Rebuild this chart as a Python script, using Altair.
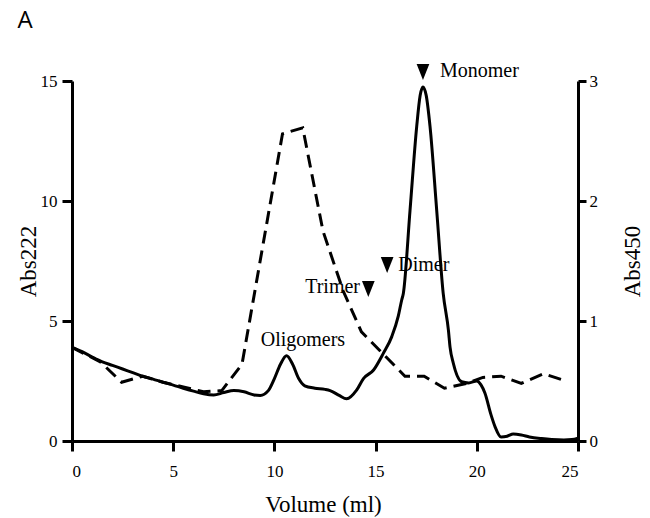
import altair as alt
import pandas as pd

# ---- data -------------------------------------------------------------
abs222_vol = [0, 0.5, 1.0, 1.5, 2.0, 2.5, 3.0, 3.5, 4.0, 4.5, 5.0, 5.5, 6.0, 6.5,
              7.0, 7.5, 8.0, 8.5, 9.0, 9.3, 9.7, 10.0, 10.3, 10.6, 10.9, 11.2,
              11.5, 12.0, 12.5, 12.75, 13.2, 13.57, 14.07, 14.4, 14.9, 15.38,
              15.8, 16.12, 16.29, 16.37, 16.7, 17.03, 17.2, 17.34, 17.5, 17.69,
              18.02, 18.34, 18.6, 18.68, 18.84, 19.25, 19.6, 20.0, 20.2, 20.4,
              20.7, 20.9, 21.2, 21.5, 21.8, 22.2, 22.6, 23.2, 23.7, 24.3, 24.7, 25.0]
abs222_val = [3.9, 3.72, 3.5, 3.3, 3.15, 3.0, 2.85, 2.7, 2.58, 2.45, 2.33, 2.2, 2.08, 1.97,
              1.92, 2.02, 2.1, 2.05, 1.92, 1.9, 2.1, 2.6, 3.2, 3.55, 3.2, 2.6,
              2.3, 2.2, 2.15, 2.1, 1.9, 1.76, 2.13, 2.6, 2.96, 3.65,
              4.35, 5.2, 5.875, 6.15, 9.6, 13.1, 14.4, 14.75, 14.4, 13.1,
              9.6, 6.15, 4.6, 3.9, 3.24, 2.47, 2.42, 2.5, 2.35, 2.0,
              1.1, 0.6, 0.17, 0.2, 0.29, 0.25, 0.17, 0.1, 0.06, 0.04, 0.06, 0.12]

abs450_vol = [0, 1.4, 2.45, 3.5, 4.5, 5.5, 6.5, 7.4, 8.4, 10.4, 11.4, 12.4, 13.4,
              14.3, 16.45, 17.4, 18.4, 19.5, 20.3, 21.2, 22.2, 23.3, 24.4]
abs450_val = [0.78, 0.66, 0.49, 0.54, 0.49, 0.45, 0.41, 0.42, 0.64, 2.56, 2.61, 1.75, 1.25,
              0.91, 0.54, 0.54, 0.44, 0.48, 0.53, 0.54, 0.48, 0.56, 0.50]

marker_vol = [17.34, 15.57, 14.64]
marker_abs = [15.375, 7.33, 6.33]

left_labels = ["Monomer", "Dimer"]
left_label_vol = [18.18, 16.12]
left_label_abs = [15.18, 7.10]

right_labels = ["Trimer"]
right_label_vol = [14.23]
right_label_abs = [6.15]

center_labels = ["Oligomers"]
center_label_vol = [11.41]
center_label_abs = [3.97]

panel_label = ["A"]

x_ticks = [0, 5, 10, 15, 20, 25]
left_ticks = [0, 5, 10, 15]
right_ticks = [0, 1, 2, 3]

# ---- frames -----------------------------------------------------------
solid_df = pd.DataFrame({"vol": abs222_vol, "abs222": abs222_val})
dash_df = pd.DataFrame({"vol": abs450_vol, "abs450": abs450_val})
mark_df = pd.DataFrame({"vol": marker_vol, "abs222": marker_abs})
lab_l = pd.DataFrame({"vol": left_label_vol, "abs222": left_label_abs, "t": left_labels})
lab_r = pd.DataFrame({"vol": right_label_vol, "abs222": right_label_abs, "t": right_labels})
lab_c = pd.DataFrame({"vol": center_label_vol, "abs222": center_label_abs, "t": center_labels})
panel_df = pd.DataFrame({"t": panel_label})

SERIF = "Liberation Serif"

common_axis = dict(
    domainColor="black", domainWidth=3, tickColor="black", tickWidth=3,
    labelFont=SERIF, labelFontSize=17, labelColor="black",
    titleFont=SERIF, titleFontSize=23, titleFontWeight="normal", titleColor="black",
    grid=False,
)

x_enc = alt.X("vol:Q", scale=alt.Scale(domain=[0, 25], nice=False, zero=False),
              axis=alt.Axis(title="Volume (ml)", values=x_ticks, format="d",
                            tickSize=10, labelPadding=12, titleX=251, titleY=70,
                            titleAlign="center", titleBaseline="alphabetic",
                            **common_axis))

yL = alt.Y("abs222:Q", scale=alt.Scale(domain=[0, 15], nice=False),
           axis=alt.Axis(title="Abs222", orient="left", values=left_ticks, format="d",
                         tickSize=10, labelPadding=5, titleAngle=270, titleX=-37,
                         titleY=180, titleAlign="center", titleBaseline="alphabetic",
                         **common_axis))

yR = alt.Y("abs450:Q", scale=alt.Scale(domain=[0, 3], nice=False),
           axis=alt.Axis(title="Abs450", orient="right", values=right_ticks, format="d",
                         tickSize=8, labelPadding=3, titleAngle=270, titleX=61,
                         titleY=180, titleAlign="center", titleBaseline="alphabetic",
                         **common_axis))

solid = alt.Chart(solid_df).mark_line(color="black", strokeWidth=3,
                                      interpolate="monotone").encode(x=x_enc, y=yL)

tri = alt.Chart(mark_df).mark_point(
    shape="M-1,-1.26L1,-1.26L0,1.26Z", filled=True, size=161, color="black", opacity=1
).encode(x=x_enc, y=yL)

def label_layer(df, align):
    return alt.Chart(df).mark_text(
        font=SERIF, fontSize=20, color="black", align=align, baseline="alphabetic"
    ).encode(x=x_enc, y=yL, text="t:N")

panel = alt.Chart(panel_df).mark_text(
    font="Open Sans", fontSize=24, color="black", align="center", baseline="alphabetic"
).encode(x=alt.value(-47), y=alt.value(-53), text="t:N")

left = alt.layer(solid, tri, label_layer(lab_l, "left"), label_layer(lab_r, "right"),
                 label_layer(lab_c, "center"), panel)

dashed = alt.Chart(dash_df).mark_line(color="black", strokeWidth=3,
                                      strokeDash=[13, 7]).encode(x=x_enc, y=yR)

chart = alt.layer(left, dashed).resolve_scale(y="independent").properties(
    width=506, height=360,
    autosize=alt.AutoSizeParams(type="none"),
    padding={"left": 72, "top": 81, "right": 72, "bottom": 77},
    background="white",
).configure_view(stroke=None)

chart.save("out.html", embed_options={"renderer": "svg", "actions": False})
